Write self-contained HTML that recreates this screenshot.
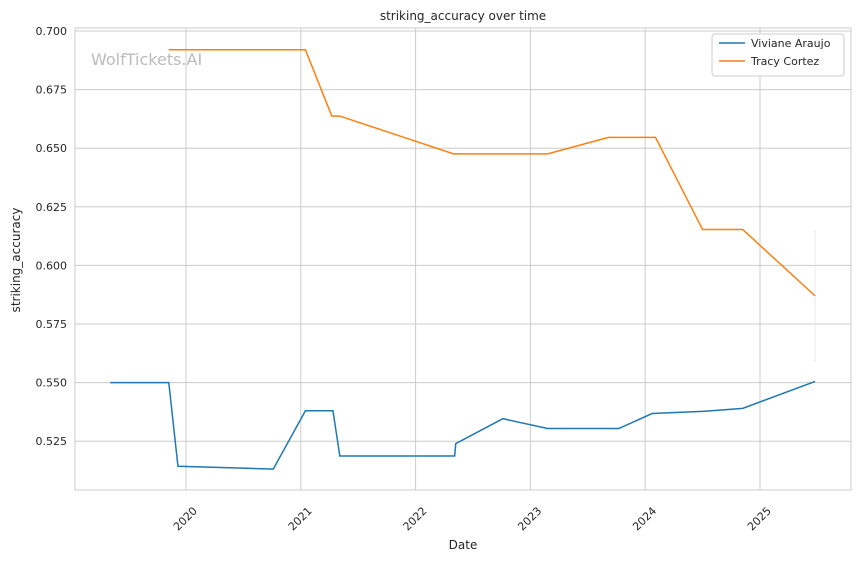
<!DOCTYPE html>
<html><head><meta charset="utf-8"><style>
body{margin:0;background:#fff;font-family:"Liberation Sans","DejaVu Sans",sans-serif;}
svg text{font-family:"DejaVu Sans","Liberation Sans",sans-serif;}
</style></head><body>
<svg id="chart" width="860" height="561"></svg>
<script>
const vaDates=[2019.34,2019.85,2019.93,2020.76,2021.04,2021.28,2021.34,2022.34,2022.35,2022.76,2023.15,2023.77,2024.06,2024.52,2024.85,2025.48];
const vaValues=[0.550,0.550,0.5143,0.5131,0.538,0.538,0.5187,0.5187,0.524,0.5346,0.5304,0.5304,0.5368,0.5378,0.539,0.5505];
const tcDates=[2019.85,2021.04,2021.27,2021.34,2022.33,2023.15,2023.68,2024.09,2024.50,2024.85,2025.48];
const tcValues=[0.692,0.692,0.6637,0.6637,0.6476,0.6476,0.6546,0.6546,0.6153,0.6153,0.587];
const yTicks=[0.525,0.550,0.575,0.600,0.625,0.650,0.675,0.700];
const xTicks=[2020,2021,2022,2023,2024,2025];
const svg=document.getElementById('chart');const NS='http://www.w3.org/2000/svg';
const L=75,R=851,T=28,B=490;
const xs=d=>186+(d-2020)*114.8;
const ys=v=>31+(0.7-v)/0.025*58.6;
function mk(tag,attrs,parent){const e=document.createElementNS(NS,tag);for(const k in attrs)e.setAttribute(k,attrs[k]);(parent||svg).appendChild(e);return e;}
yTicks.forEach(v=>{const y=ys(v);
 const g=mk('line',{x1:L,x2:R,y1:y,y2:y,stroke:'#cccccc','stroke-width':1});
 
 
 const t=mk('text',{x:L-8,y:y+4,'text-anchor':'end','font-size':11,fill:'#262626'});t.textContent=v.toFixed(3);
 
 
});
xTicks.forEach(d=>{const x=xs(d);
 const g=mk('line',{x1:x,x2:x,y1:T,y2:B,stroke:'#cccccc','stroke-width':1});
 
 
 const tx=x+5,ty=B+21;
 const t=mk('text',{x:tx,y:ty,'text-anchor':'end','font-size':11,fill:'#262626',transform:`rotate(-45 ${tx+4} ${ty-8})`});t.textContent=d;
 
 
});
const fr=mk('rect',{x:L,y:T,width:R-L,height:B-T,fill:'none',stroke:'#cccccc','stroke-width':1});


const vl=mk('line',{x1:815,x2:815,y1:230,y2:362,stroke:'#e8e8e8','stroke-width':1});


function series(ds,vs,color,name){const p=mk('polyline',{points:ds.map((d,i)=>xs(d)+','+ys(vs[i])).join(' '),fill:'none',stroke:color,'stroke-width':1.5});
 
 }
series(vaDates,vaValues,'#1f77b4','series-viviane-araujo');
series(tcDates,tcValues,'#ff7f0e','series-tracy-cortez');
const wm=mk('text',{x:91,y:65,'font-size':16,fill:'#bbbbbb'});wm.textContent='WolfTickets.AI';


const ti=mk('text',{x:463,y:20,'text-anchor':'middle','font-size':12,fill:'#262626'});ti.textContent='striking_accuracy over time';


const xt=mk('text',{x:463,y:549,'text-anchor':'middle','font-size':12,fill:'#262626'});xt.textContent='Date';


const yt=mk('text',{x:20,y:260,'text-anchor':'middle','font-size':12,fill:'#262626',transform:'rotate(-90 20 260)'});yt.textContent='striking_accuracy';


const lg=mk('rect',{x:712,y:34,width:132,height:42,fill:'#fff',stroke:'#cccccc',rx:3});


[['Viviane Araujo','#1f77b4',47],['Tracy Cortez','#ff7f0e',65]].forEach(([n,c,y])=>{
 const l=mk('line',{x1:719,x2:745,y1:y-4,y2:y-4,stroke:c,'stroke-width':1.5});
 
 
 const t=mk('text',{x:751,y:y,'font-size':11,fill:'#262626'});t.textContent=n;
 
 
});
</script>
</body></html>
